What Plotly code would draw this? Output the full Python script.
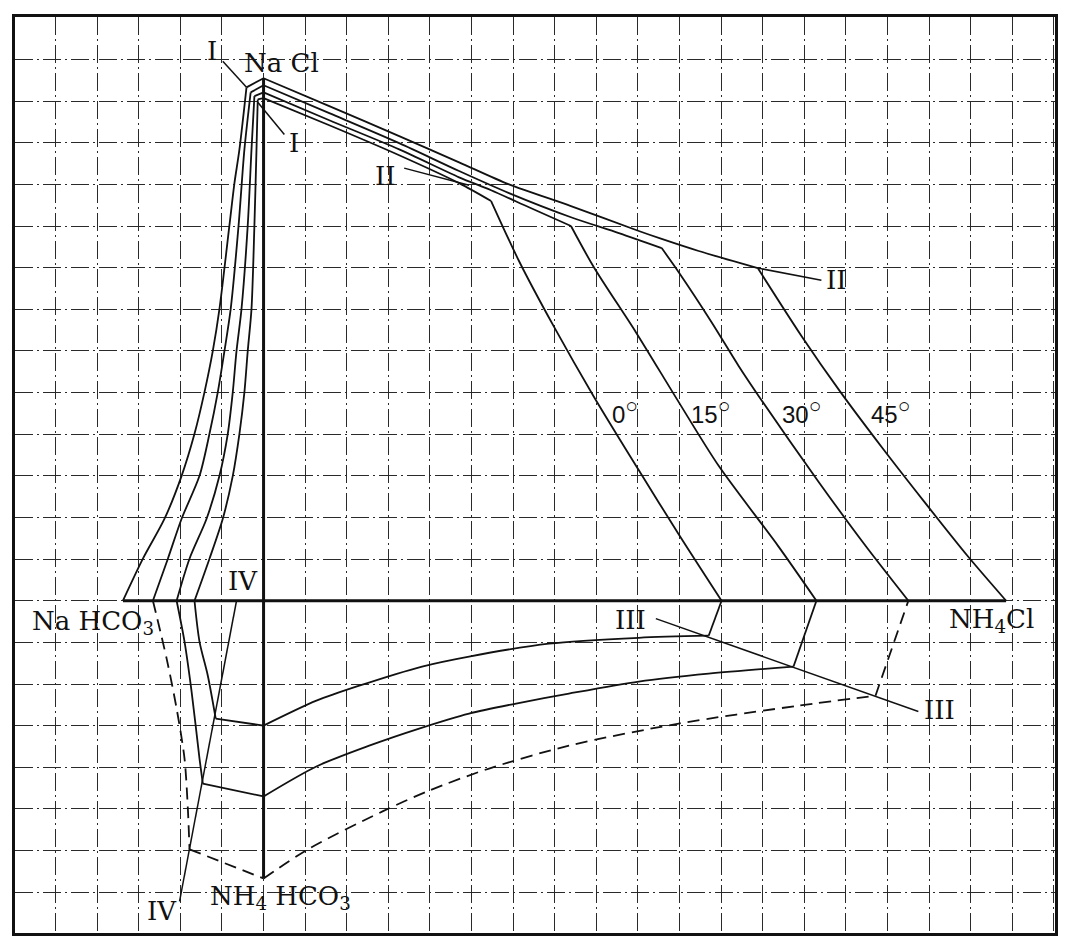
import plotly.graph_objects as go

# ---- data (grid units; origin = NaCl/NH4Cl axes crossing) ----
temps = ["0°", "15°", "30°", "45°"]

# upper region: NaHCO3 axis point -> NaCl vertex -> NH4Cl saturation -> NH4Cl axis
up45_x = [-3.38, -2.90, -2.38, -1.97, -1.66, -1.42, -1.22, -1.06, -0.82, -0.70, -0.58, -0.41, 0.00,
          1.58, 3.26, 4.70, 5.90, 7.39, 9.02, 9.57, 10.46, 11.88,
          12.93, 13.87, 14.89, 15.88, 16.92, 17.85]
up45_y = [0.00, 1.01, 1.97, 3.00, 4.01, 5.01, 6.00, 7.01, 9.02, 10.03, 10.84, 12.33, 12.55,
          11.88, 11.16, 10.53, 10.00, 9.48, 8.88, 8.69, 8.40, 7.99,
          6.36, 5.01, 3.65, 2.38, 1.08, 0.00]
up45_breaks = [11, 12, 21]

up30_x = [-2.66, -2.30, -1.97, -1.54, -1.30, -1.10, -0.94, -0.79, -0.60, -0.46, -0.31, 0.00,
          1.58, 3.26, 4.70, 5.90, 7.39, 8.54, 9.57,
          9.98, 10.77, 11.42, 11.90, 13.34, 14.47, 15.50]
up30_y = [0.00, 1.01, 1.97, 3.00, 4.01, 5.01, 6.00, 7.01, 9.02, 10.84, 12.21, 12.38,
          11.71, 10.99, 10.32, 9.79, 9.21, 8.83, 8.47,
          7.89, 6.69, 5.64, 4.92, 2.86, 1.32, 0.00]
up30_breaks = [10, 11, 18]

up15_x = [-2.09, -1.78, -1.37, -1.06, -0.86, -0.74, -0.65, -0.53, -0.38, -0.29, -0.22, 0.00,
          1.58, 3.26, 4.70, 5.47, 6.38, 7.39,
          7.94, 8.95, 9.98, 10.94, 12.38, 13.29]
up15_y = [0.00, 1.01, 1.97, 3.00, 4.01, 5.01, 6.00, 7.01, 9.02, 10.84, 12.12, 12.21,
          11.54, 10.84, 10.17, 9.86, 9.45, 9.00,
          8.01, 6.45, 4.77, 3.24, 1.30, 0.00]
up15_breaks = [10, 11, 17]

up0_x = [-1.66, -1.30, -0.98, -0.74, -0.58, -0.46, -0.38, -0.29, -0.22, -0.17, -0.14, 0.00,
         1.58, 3.26, 4.70, 5.47,
         6.14, 6.97, 7.94, 9.01, 9.99, 11.01]
up0_y = [0.00, 1.01, 1.97, 3.00, 4.01, 5.01, 6.00, 7.01, 9.02, 10.84, 12.04, 12.07,
         11.42, 10.70, 10.03, 9.60,
         8.16, 6.60, 4.90, 3.15, 1.58, 0.00]
up0_breaks = [10, 11, 15]

# lower region: NaHCO3 axis point -> triple point -> NH4HCO3 axis -> III point -> NH4Cl axis
lo0_x = [-1.66, -1.54, -1.34, -1.15, 0.00, 1.27, 2.30, 3.81, 4.94, 6.86, 9.02, 10.70, 11.01]
lo0_y = [0.00, -0.98, -1.80, -2.83, -3.00, -2.40, -2.04, -1.58, -1.34, -1.03, -0.89, -0.84, 0.00]
lo0_breaks = [3, 4, 11]

lo15_x = [-2.09, -1.90, -1.73, -1.54, -1.46, 0.00, 1.27, 2.54, 3.74, 4.94, 6.07, 7.34, 9.02,
          10.70, 12.74, 13.29]
lo15_y = [0.00, -0.98, -2.18, -3.79, -4.39, -4.70, -3.98, -3.48, -3.07, -2.71, -2.47, -2.23,
          -1.94, -1.75, -1.58, 0.00]
lo15_breaks = [4, 5, 14]

lo30_x = [-2.66, -2.33, -2.09, -1.90, -1.82, -1.78, 0.00, 1.10, 2.86, 3.98, 5.42, 7.34, 9.98,
          12.86, 14.71, 15.50]
lo30_y = [0.00, -1.39, -2.59, -3.79, -4.99, -5.97, -6.67, -5.95, -5.06, -4.56, -4.03, -3.48,
          -2.95, -2.52, -2.28, 0.00]
lo30_breaks = [5, 6, 14]

# construction lines
axis_h_x = [-3.38, 17.85]
axis_h_y = [0.0, 0.0]
axis_v_x = [0.0, 0.0]
axis_v_y = [12.55, -6.67]
line_iv_x = [-0.65, -2.02]
line_iv_y = [0.00, -7.22]
line_iii_x = [9.43, 15.74]
line_iii_y = [-0.43, -2.66]
lead_i1_x = [-0.98, -0.41]
lead_i1_y = [12.96, 12.33]
lead_i2_x = [-0.14, 0.50]
lead_i2_y = [11.97, 11.20]
lead_ii1_x = [3.38, 4.94]
lead_ii1_y = [10.39, 9.98]
lead_ii2_x = [11.88, 13.41]
lead_ii2_y = [7.99, 7.70]

# labels
serif_labels = ["Na Cl", "I", "I", "II", "II", "IV", "IV", "III", "III",
                "Na HCO<sub>3</sub>", "NH<sub>4</sub>Cl", "NH<sub>4</sub> HCO<sub>3</sub>"]
serif_x = [0.43, -1.25, 0.74, 2.93, 13.77, -0.50, -2.45, 8.83, 16.24, -4.10, 17.49, 0.40]
serif_y = [12.92, 13.20, 10.99, 10.20, 7.70, 0.48, -7.46, -0.46, -2.62, -0.52, -0.47, -7.12]
temp_x = [8.70, 10.75, 12.93, 15.07]
temp_y = [4.55, 4.55, 4.55, 4.55]

BLACK = "#111111"
fig = go.Figure()


def add_line(xs, ys, width=1.8, dash="solid", shape="linear"):
    fig.add_trace(go.Scatter(x=xs, y=ys, mode="lines",
                             line=dict(color=BLACK, width=width, dash=dash, shape=shape,
                                       smoothing=0.8 if shape == "spline" else None),
                             hoverinfo="skip", showlegend=False))


def add_curve(xs, ys, breaks, dash="solid"):
    idx = [0] + breaks + [len(xs) - 1]
    for a, b in zip(idx[:-1], idx[1:]):
        add_line(xs[a:b + 1], ys[a:b + 1], dash=dash,
                 shape="spline" if b - a > 1 else "linear")


add_curve(up45_x, up45_y, up45_breaks)
add_curve(up30_x, up30_y, up30_breaks)
add_curve(up15_x, up15_y, up15_breaks)
add_curve(up0_x, up0_y, up0_breaks)
add_curve(lo0_x, lo0_y, lo0_breaks)
add_curve(lo15_x, lo15_y, lo15_breaks)
add_curve(lo30_x, lo30_y, lo30_breaks, dash="12px,7px")
add_line(axis_h_x, axis_h_y, width=3)
add_line(axis_v_x, axis_v_y, width=3)
for xs, ys in [(line_iv_x, line_iv_y), (line_iii_x, line_iii_y), (lead_i1_x, lead_i1_y),
               (lead_i2_x, lead_i2_y), (lead_ii1_x, lead_ii1_y), (lead_ii2_x, lead_ii2_y)]:
    add_line(xs, ys, width=1.5)

serif_font = dict(family="DejaVu Serif", size=26, color=BLACK)
for t, x, y in zip(serif_labels, serif_x, serif_y):
    fig.add_annotation(x=x, y=y, text=t, showarrow=False, font=serif_font,
                       xanchor="center", yanchor="middle")
for t, x, y in zip(temps, temp_x, temp_y):
    fig.add_annotation(x=x, y=y,
                       text=t.replace("°", "<sup><span style='font-size:21px'>○</span></sup>"),
                       showarrow=False,
                       font=dict(family="Liberation Sans", size=24, color=BLACK),
                       xanchor="center", yanchor="middle")

grid = dict(showgrid=True, gridcolor="#2a2a2a", gridwidth=1, griddash="18px,4px,2px,4px",
            dtick=1, tick0=0, showticklabels=False, ticks="", zeroline=False,
            showline=True, linecolor=BLACK, linewidth=3, mirror=True)
fig.update_xaxes(range=[-5.975, 19.025], **grid)
fig.update_yaxes(range=[-7.98, 14.02], **grid)
# page body keeps an 8px margin, so the figure is 16px smaller than the window
fig.update_layout(width=1056, height=931, margin=dict(l=7, r=7, t=8, b=6),
                  plot_bgcolor="white", paper_bgcolor="white", showlegend=False)

fig.write_html("out.html")
